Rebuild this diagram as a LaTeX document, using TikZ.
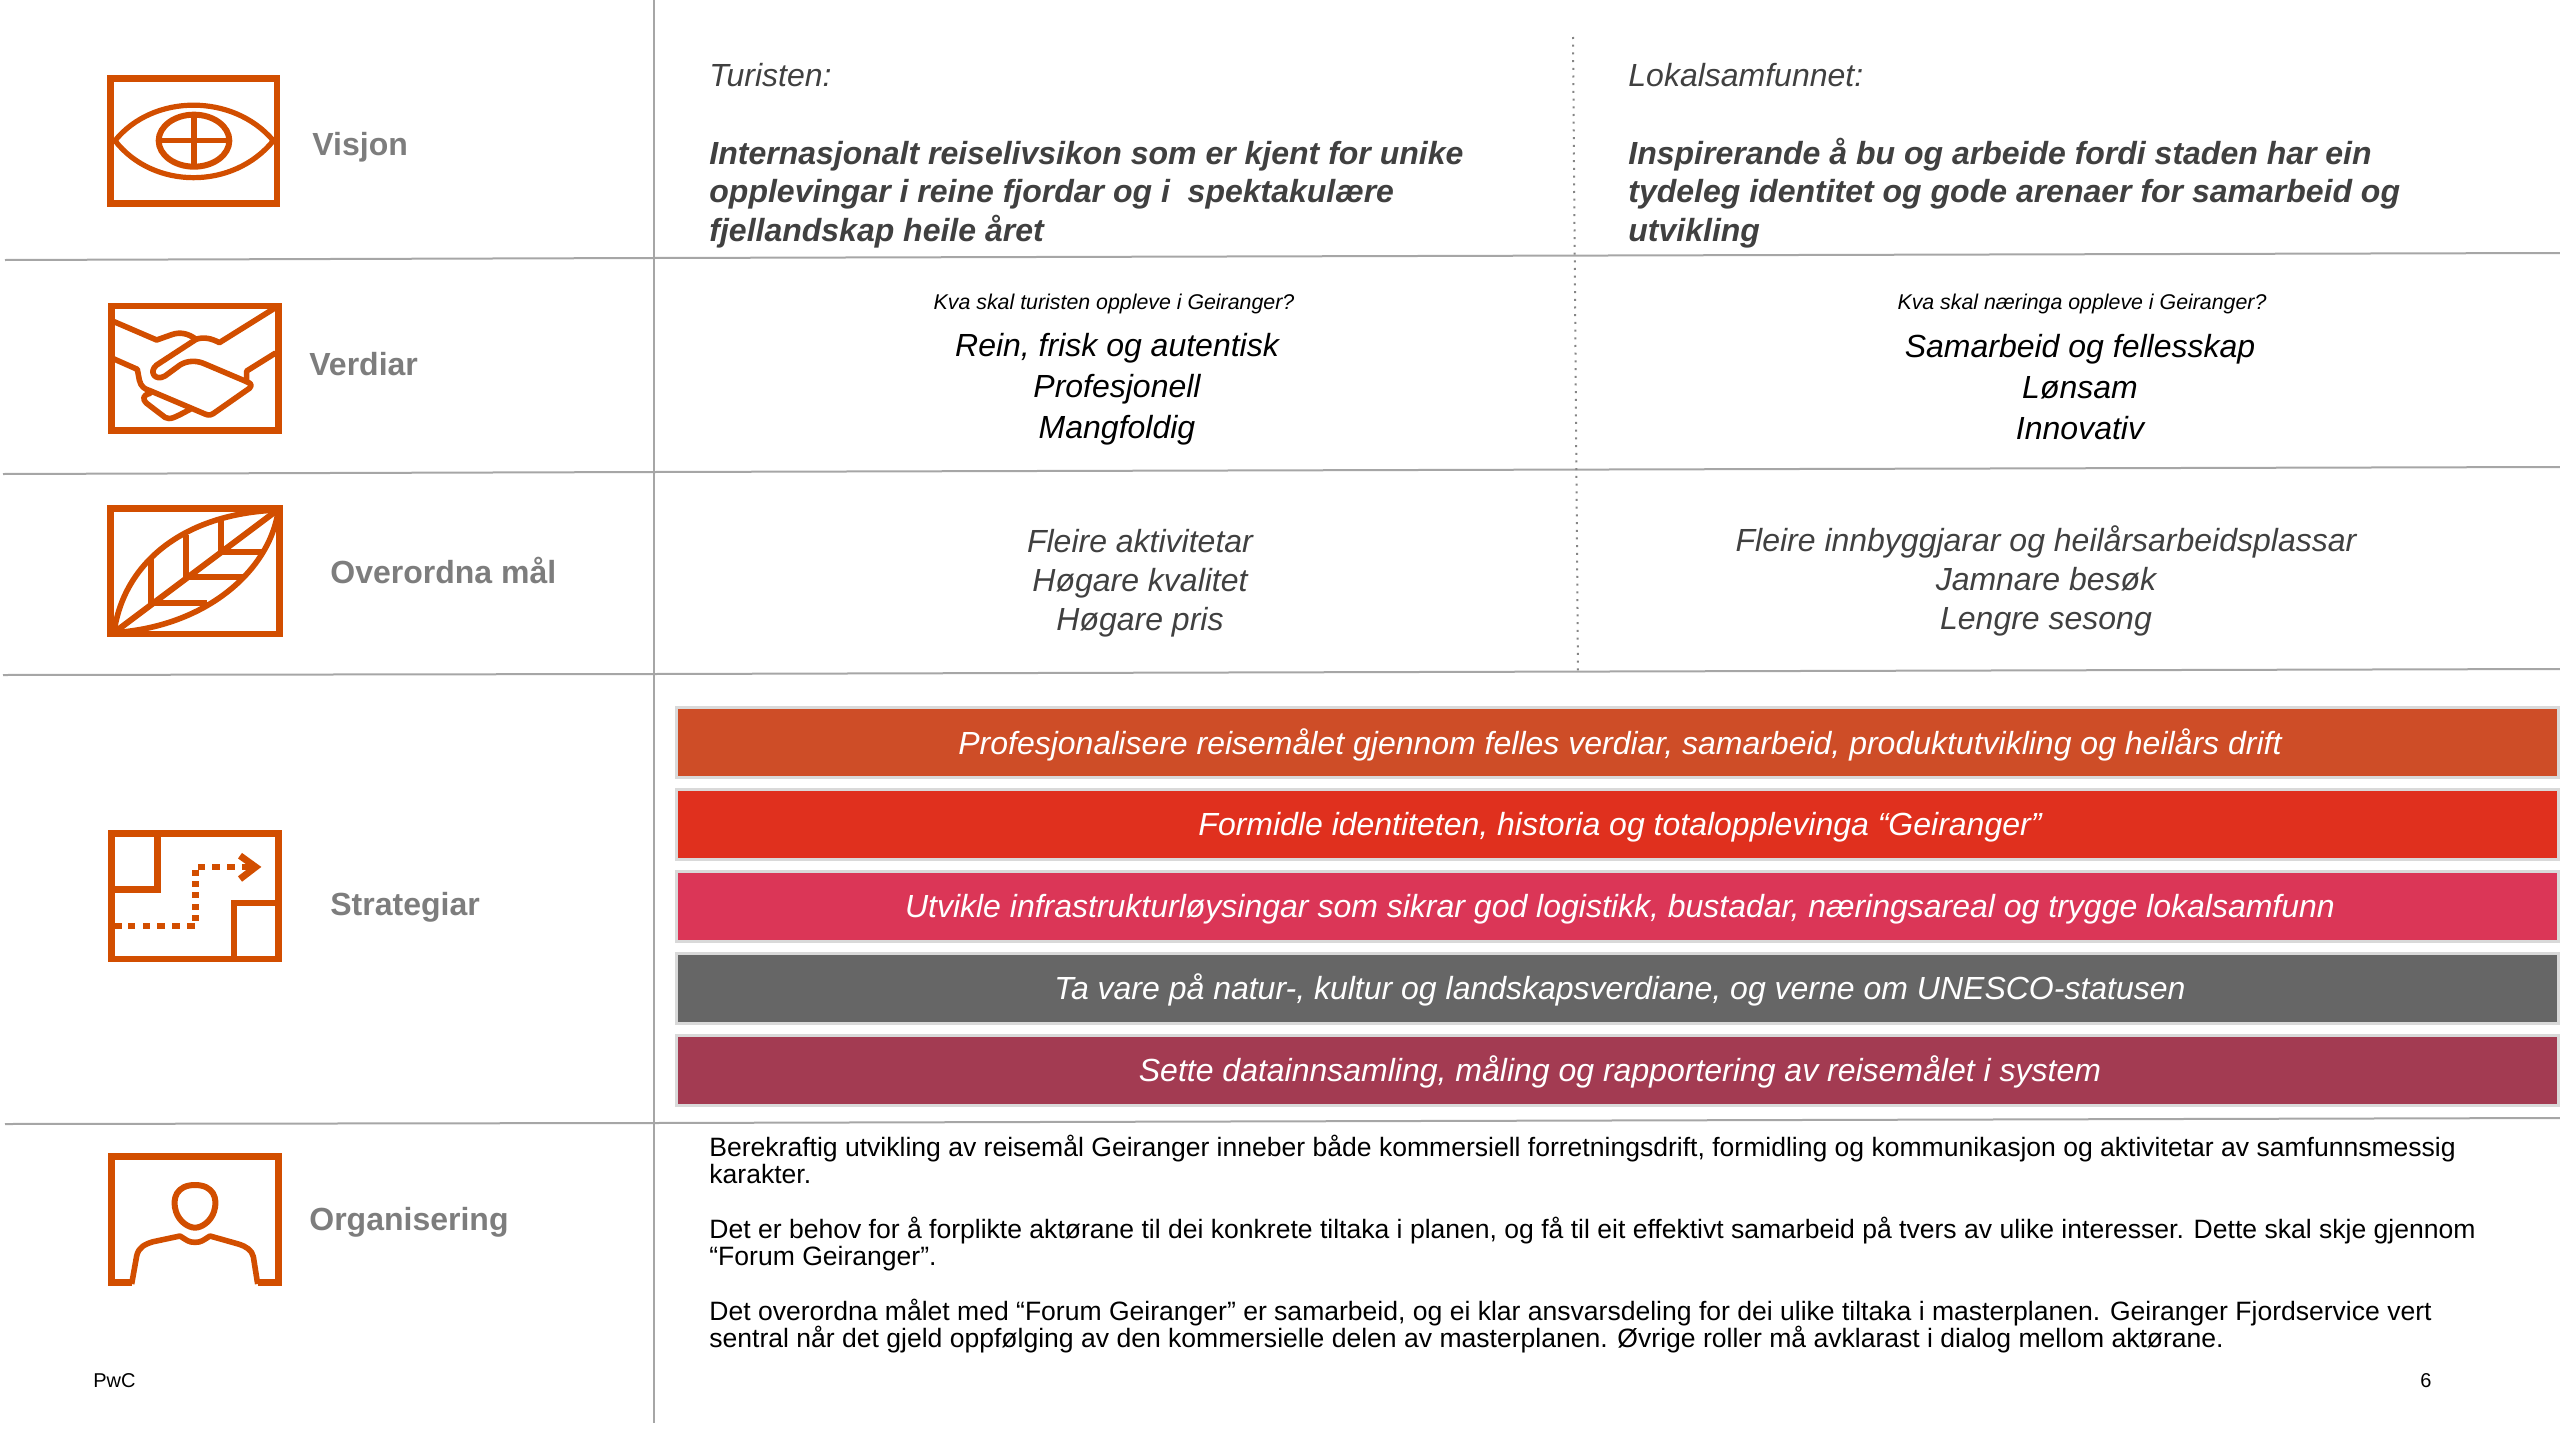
\documentclass[tikz,border=0pt]{standalone}
\usepackage{fontspec}
\setmainfont{Liberation Sans}
\definecolor{icon}{HTML}{D24E00}
\definecolor{gridc}{HTML}{A6A6A6}
\definecolor{labelc}{HTML}{7D7D7D}
\definecolor{headc}{HTML}{404040}
\newcommand\mytightlines{\lineskiplimit=-8pt\relax}
\tikzset{
  px/.style={x=0.5pt,y=-0.5pt},
  zoomed/.style={x=0.16667pt,y=-0.16667pt},
  gridline/.style={draw=gridc,line width=1pt},
  iconframe/.style={draw=icon,line width=3.4pt,line join=miter},
  iconline/.style={draw=icon,line width=2.8pt,line join=round,line cap=round},
  sidelabel/.style={anchor=west,inner sep=0pt,text=labelc,font=\fontsize{16}{19}\selectfont\bfseries},
  headit/.style={anchor=west,inner sep=0pt,text=headc,font=\fontsize{16}{18}\selectfont\itshape},
  headbold/.style={anchor=north west,inner sep=0pt,align=left,text=headc,font=\fontsize{16}{19.2}\selectfont\bfseries\itshape},
  smallq/.style={inner sep=0pt,font=\fontsize{10.67}{12}\selectfont\itshape},
  values/.style={inner sep=0pt,align=center,font=\fontsize{16}{20.6}\selectfont\itshape},
  goals/.style={inner sep=0pt,align=center,text=headc,font=\fontsize{16}{19.5}\selectfont\itshape},
  barbox/.style={draw=black!15,line width=1.5pt},
  bartext/.style={inner sep=0pt,text=white,font=\fontsize{16}{18}\selectfont\itshape},
  body/.style={anchor=north west,inner sep=0pt,align=left,font=\fontsize{13.27}{13.5}\selectfont\mytightlines},
  foot/.style={inner sep=0pt,font=\fontsize{10}{11}\selectfont},
}
\begin{document}
\begin{tikzpicture}[px]
\useasboundingbox (0,0) rectangle (2560,1440);
% grid
\draw[gridline] (654,0) -- (654,1423);
\draw[gridline] (5,260) -- (654,258) -- (2560,253);
\draw[gridline] (3,474) -- (654,472) -- (2560,467);
\draw[gridline] (3,675) -- (654,674) -- (2560,669);
\draw[gridline] (5,1124) -- (654,1123) -- (2560,1118);
\draw[draw=gridc!80!black,line width=1pt,dash pattern=on 1pt off 2.85pt] (1573,37) -- (1578,674);
% side labels
\node[sidelabel] (lv) at (312,147) {Visjon};
\node[sidelabel] (lw) at (309,364) {Verdiar};
\node[sidelabel] (lo) at (330,570) {Overordna mål};
\node[sidelabel] (ls) at (330,907) {Strategiar};
\node[sidelabel] (lg) at (309,1222) {Organisering};
% eye
\begin{scope}[shift={(90,60)},zoomed]
\draw[iconframe] (62,55) rectangle (561,430);
\draw[iconline,line width=2.6pt] (75,242) .. controls (190,100) and (430,100) .. (550,242) .. controls (430,390) and (190,390) .. (75,242);
\draw[iconline,line width=3pt] (312,242) ellipse (106 and 78);
\draw[iconline,line cap=butt] (312,165) -- (312,320);
\draw[iconline,line cap=butt] (206,242) -- (418,242);
\end{scope}
% handshake
\begin{scope}[shift={(90,290)},zoomed]
\draw[iconframe] (65,48) rectangle (565,422);
\draw[iconline] (72,95) -- (200,150) -- (245,134) .. controls (270,125) and (295,130) .. (318,148) .. controls (340,140) and (365,145) .. (388,158) -- (558,52);
\draw[iconline] (318,148) -- (200,225) .. controls (175,245) and (195,275) .. (225,258) -- (270,225) .. controls (290,212) and (320,210) .. (345,222) -- (470,275);
\draw[iconline] (555,190) -- (470,243) -- (470,270);
\draw[iconline] (72,207) -- (142,238) -- (148,270) .. controls (152,290) and (165,298) .. (180,302) -- (345,372) .. controls (358,378) and (365,375) .. (378,365) -- (478,295) .. controls (488,285) and (482,280) .. (470,275);
\draw[iconline] (180,310) .. controls (160,315) and (155,325) .. (170,340) -- (225,382) .. controls (240,390) and (250,385) .. (300,358);
\end{scope}
% leaf
\begin{scope}[shift={(90,490)},zoomed]
\draw[iconframe] (62,55) rectangle (568,432);
\draw[iconline] (72,428) .. controls (100,220) and (280,70) .. (565,60) .. controls (540,240) and (350,410) .. (72,428);
\draw[iconline,line cap=butt,line width=3pt] (72,428) -- (565,58);
\draw[iconline,line cap=butt,line width=3pt] (183,205) -- (183,340) -- (350,340);
\draw[iconline,line cap=butt,line width=3pt] (288,135) -- (288,262) -- (460,262);
\draw[iconline,line cap=butt,line width=3pt] (392,92) -- (392,185) -- (520,185);
\end{scope}
% map
\begin{scope}[shift={(90,815)},zoomed]
\draw[iconframe] (65,55) rectangle (565,432);
\draw[iconframe] (65,55) -- (203,55) -- (203,223) -- (65,223);
\draw[iconframe] (432,432) -- (432,264) -- (565,264);
\foreach \xx in {84,125,169,213,258,303}
  \fill[icon] (\xx-11,323) rectangle (\xx+11,341);
\foreach \yy in {308,275,241,208,175}
  \fill[icon] (305,\yy-9) rectangle (328,\yy+9);
\foreach \xx in {335,378,423,468}
  \fill[icon] (\xx-11,146) rectangle (\xx+11,164);
\draw[draw=icon,line width=3.4pt,line join=miter] (450,122) -- (497,156) -- (450,192);
\end{scope}
% person
\begin{scope}[shift={(90,1140)},zoomed]
\draw[iconframe] (125,428) -- (65,428) -- (65,50) -- (565,50) -- (565,428) -- (503,428);
\draw[iconline,line cap=butt] (125,432) -- (140,348) .. controls (145,322) and (165,312) .. (190,305) -- (270,288) .. controls (290,300) and (295,307) .. (315,307) .. controls (335,307) and (340,300) .. (360,288) -- (445,312) .. controls (470,320) and (485,330) .. (490,350) -- (503,432);
\draw[iconline,line width=3pt] (315,135) .. controls (260,135) and (245,175) .. (258,215) .. controls (268,245) and (295,263) .. (315,263) .. controls (335,263) and (362,245) .. (372,215) .. controls (385,175) and (370,135) .. (315,135);
\end{scope}
% vision row
\node[headit] (t1) at (709,75) {Turisten:};
\node[headit] (t2) at (1628,75) {Lokalsamfunnet:};
\node[headbold] (b1) at (709,137) {\strut Internasjonalt reiselivsikon som er kjent for unike\\opplevingar i reine fjordar og i\ \ spektakulære\\fjellandskap heile året};
\node[headbold] (b2) at (1628,137) {\strut Inspirerande å bu og arbeide fordi staden har ein\\tydeleg identitet og gode arenaer for samarbeid og\\utvikling};
% values row
\node[smallq] (q1) at (1114,304) {Kva skal turisten oppleve i Geiranger?};
\node[smallq] (q2) at (2082,304) {Kva skal næringa oppleve i Geiranger?};
\node[values] (v1) at (1117,389) {Rein, frisk og autentisk\\Profesjonell\\Mangfoldig};
\node[values] (v2) at (2080,387) {Samarbeid og fellesskap\\Lønsam\\Innovativ};
% goals row
\node[goals] (g1) at (1140,583) {Fleire aktivitetar\\Høgare kvalitet\\Høgare pris};
\node[goals] (g2) at (2046,581) {Fleire innbyggjarar og heilårsarbeidsplassar\\Jamnare besøk\\Lengre sesong};
% strategy bars
\draw[barbox,fill={rgb,255:red,206;green,77;blue,39}] (676,707) rectangle (2558.5,777);
\draw[barbox,fill={rgb,255:red,224;green,48;blue,30}] (676,789) rectangle (2558.5,859);
\draw[barbox,fill={rgb,255:red,219;green,54;blue,87}] (676,871) rectangle (2558.5,941);
\draw[barbox,fill={rgb,255:red,102;green,102;blue,102}] (676,953) rectangle (2558.5,1023);
\draw[barbox,fill={rgb,255:red,163;green,59;blue,82}] (676,1035) rectangle (2558.5,1105);
\node[bartext] (s1) at (1620,745) {Profesjonalisere reisemålet gjennom felles verdiar, samarbeid, produktutvikling og heilårs drift};
\node[bartext] (s2) at (1620,827) {Formidle identiteten, historia og totalopplevinga “Geiranger”};
\node[bartext] (s3) at (1620,909) {Utvikle infrastrukturløysingar som sikrar god logistikk, bustadar, næringsareal og trygge lokalsamfunn};
\node[bartext] (s4) at (1620,990) {Ta vare på natur-, kultur og landskapsverdiane, og verne om UNESCO-statusen};
\node[bartext] (s5) at (1620,1072) {Sette datainnsamling, måling og rapportering av reisemålet i system};
% organisation text
\node[body] (o1) at (709,1135) {Berekraftig utvikling av reisemål Geiranger inneber både kommersiell forretningsdrift, formidling og kommunikasjon og aktivitetar av samfunnsmessig\\karakter.};
\node[body] (o2) at (709,1217) {Det er behov for å forplikte aktørane til dei konkrete tiltaka i planen, og få til eit effektivt samarbeid på tvers av ulike interesser. Dette skal skje gjennom\\“Forum Geiranger”.};
\node[body] (o3) at (709,1299) {Det overordna målet med “Forum Geiranger” er samarbeid, og ei klar ansvarsdeling for dei ulike tiltaka i masterplanen. Geiranger Fjordservice vert\\sentral når det gjeld oppfølging av den kommersielle delen av masterplanen. Øvrige roller må avklarast i dialog mellom aktørane.};
% footer
\node[foot,anchor=west] (pwc) at (93,1381) {PwC};
\node[foot] (pg) at (2426,1381) {6};
\end{tikzpicture}
\end{document}
